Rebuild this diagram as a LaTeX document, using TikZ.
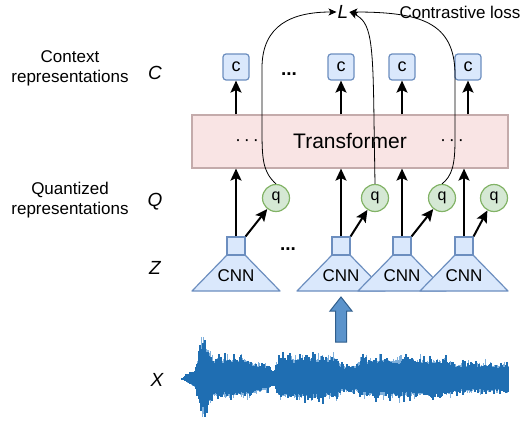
\documentclass[tikz,border=0pt]{standalone}
\usepackage{fontspec}
\setmainfont{Liberation Sans}
\usetikzlibrary{arrows.meta,calc}
\definecolor{bfill}{HTML}{DAE8FC}
\definecolor{bdraw}{HTML}{6C8EBF}
\definecolor{gfill}{HTML}{D5E8D4}
\definecolor{gdraw}{HTML}{82B366}
\definecolor{tfill}{HTML}{F9E4E4}
\definecolor{tdraw}{HTML}{C4ABAB}
\definecolor{wavec}{HTML}{1F6EB2}
\definecolor{wavel}{HTML}{7FB0DC}
\definecolor{afill}{HTML}{5B93CB}
\definecolor{adraw}{HTML}{305E8C}
\begin{document}
\begin{tikzpicture}[x=1pt,y=-1pt,
  cbox/.style={draw=bdraw,fill=bfill,line width=1.2pt,rounded corners=3pt,minimum size=26pt,inner sep=0pt,font=\fontsize{18}{18}\selectfont},
  qnode/.style={circle,draw=gdraw,fill=gfill,line width=1.2pt,minimum size=27pt,inner sep=0pt,font=\fontsize{16}{16}\selectfont},
  sqbox/.style={draw=bdraw,fill=bfill,line width=1.2pt,minimum size=18pt,inner sep=0pt},
  trap/.style={draw=bdraw,fill=bfill,line width=1.2pt,line join=round},
  bigarrow/.style={line width=2pt,-{Stealth[length=12pt,width=11pt,inset=2.5pt]}},
  curvearrow/.style={line width=0.8pt,-{Stealth[length=8pt,width=7pt,inset=2pt]}},
  lbl/.style={align=center,font=\fontsize{17}{20}\selectfont},
  sym/.style={font=\fontsize{19}{19}\itshape},
  dotsl/.style={font=\fontsize{19}{19}\bfseries,anchor=base,inner sep=0pt},
  mdots/.style={font=\fontsize{18}{18}\selectfont,inner sep=0pt}
]
\useasboundingbox (0,0) rectangle (523,429);

% left labels
\node[lbl] (ctxl) at (70,68) {Context\\representations};
\node[lbl] (qnl) at (70,200) {Quantized\\representations};
\node[sym] (Csym) at (155,73) {C};
\node[sym] (Qsym) at (155,202) {Q};
\node[sym] (Zsym) at (155,268) {Z};
\node[sym] (Xsym) at (157,380) {X};

% loss
\node[sym,inner sep=1pt] (L) at (343,12) {L};
\node[lbl] (closs) at (460,12) {Contrastive loss};

% transformer
\node[draw=tdraw,fill=tfill,line width=1.2pt,minimum width=316pt,minimum height=53pt,inner sep=0pt,font=\fontsize{21}{21}\selectfont] (tr) at (350,141.5) {Transformer};
\node[mdots] (td1) at (247,143) {·\,·\,·};
\node[mdots] (td2) at (452,143) {·\,·\,·};

% context boxes
\node[cbox] (c1) at (236,67) {c};
\node[cbox] (c2) at (341,67) {c};
\node[cbox] (c3) at (402,67) {c};
\node[cbox] (c4) at (468,67) {c};
\node[dotsl] (cd) at (289,75) {...};
\foreach \i in {1,2,3,4}{
  \draw[bigarrow] (tr.north -| c\i) -- (c\i.south);
}

% CNNs
\foreach \i/\x in {1/236,2/341,3/402,4/464}{
  \draw[trap] (\x-9,255) -- (\x+9,255) -- (\x+44,291) -- (\x-44,291) -- cycle;
  \node[sqbox] (s\i) at (\x,246) {};
  \node[font=\fontsize{17}{17}\selectfont] (n\i) at (\x,276) {CNN};
}
\node[dotsl] (sd) at (288,250) {...};

% q nodes
\node[qnode] (q1) at (276,198) {q};
\node[qnode] (q2) at (375,198) {q};
\node[qnode] (q3) at (442,198) {q};
\node[qnode] (q4) at (494,198) {q};

\foreach \i in {1,2,3,4}{
  \draw[bigarrow] (s\i.north) -- (s\i.north |- tr.south);
  \draw[bigarrow] (s\i.north east) -- (q\i);
}

% contrastive curves
\draw[curvearrow] (q1.north) .. controls (263,172) and (262,160) .. (262,130) -- (262,68) .. controls (262,25) and (292,12) .. (L.west);
\draw[curvearrow] (q2.north) -- (374,120) .. controls (373,40) and (371,22) .. (L.east);
\draw[curvearrow] (q3.north) .. controls (452,176) and (455,165) .. (455,140) -- (455,75) .. controls (455,22) and (420,12) .. (L.east);

% input arrow
\draw[fill=afill,draw=adraw,line width=1pt,line join=miter] (335.5,342) -- (335.5,311) -- (330,311) -- (341,297) -- (352,311) -- (346.5,311) -- (346.5,342) -- cycle;

% waveform
\pgfmathsetseed{12}
\foreach \xa/\xb/\aa/\ab in {182/195/1/12, 195/203/12/50, 203/212/50/28, 212/250/26/24, 250/268/21/16, 268/273/16/8, 273/280/8/26, 280/300/26/28, 300/337/28/26, 337/342/26/17, 342/355/17/17, 355/362/17/25, 362/405/25/25, 405/450/25/23, 450/508/19/18}{
  \foreach \x in {\xa,...,\xb}{
    \pgfmathsetmacro\a{\aa+(\ab-\aa)*(\x-\xa)/(\xb-\xa)}
    \pgfmathsetmacro\lup{\a*(0.7+0.45*rnd*rnd*rnd)}
    \pgfmathsetmacro\ldn{\a*0.88*(0.7+0.45*rnd*rnd*rnd)}
    \draw[wavel,line width=1pt] (\x,379-\lup) -- (\x,379+\ldn);
    \pgfmathsetmacro\up{\a*(0.58+0.5*rnd*rnd)}
    \pgfmathsetmacro\dn{\a*0.88*(0.58+0.5*rnd*rnd)}
    \draw[wavec,line width=1.2pt] (\x,379-\up) -- (\x,379+\dn);
  }
}
\end{tikzpicture}
\end{document}
